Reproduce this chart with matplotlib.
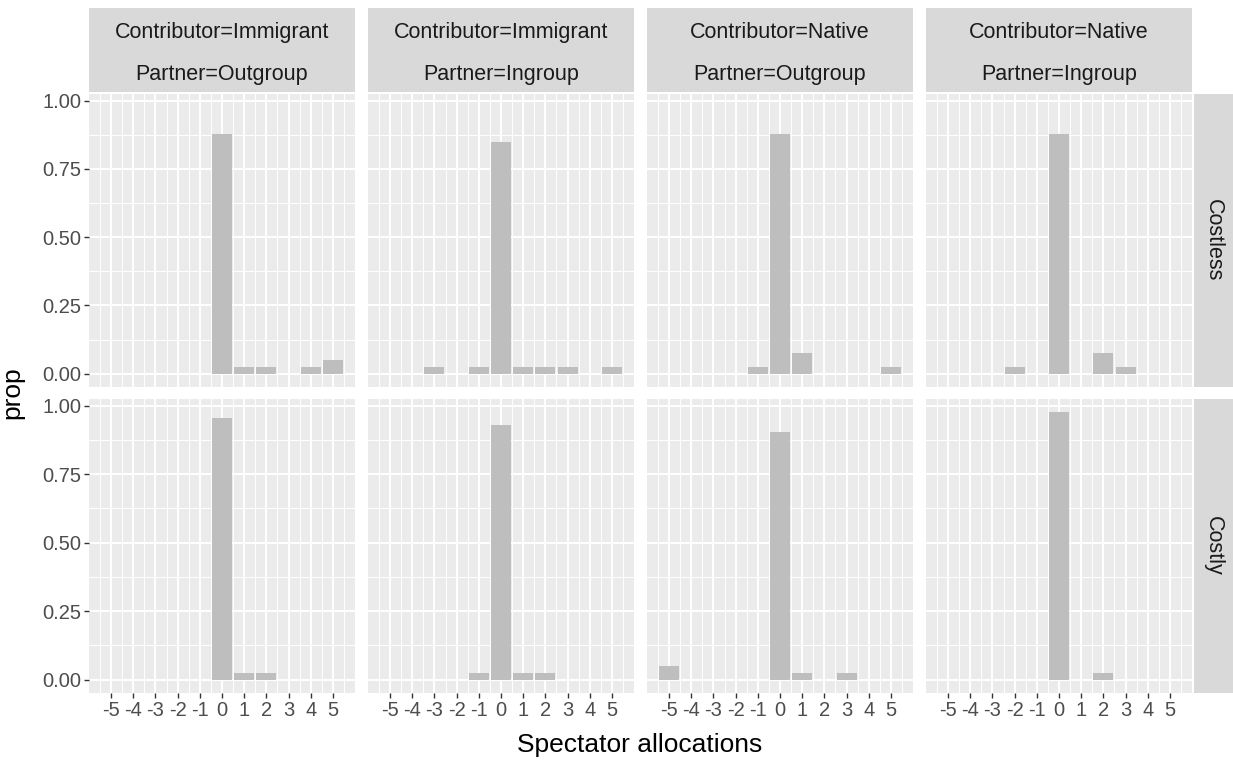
import numpy as np
import matplotlib
matplotlib.use("Agg")
import matplotlib.pyplot as plt

plt.rcParams['font.family'] = ['Liberation Sans', 'DejaVu Sans']

allocations = [-5, -4, -3, -2, -1, 0, 1, 2, 3, 4, 5]
contributors = ["Immigrant", "Immigrant", "Native", "Native"]
partners = ["Outgroup", "Ingroup", "Outgroup", "Ingroup"]
conditions = ["Costless", "Costly"]

# prop per allocation, one list per panel
costless_imm_out = [0, 0, 0, 0, 0, 0.879, 0.026, 0.026, 0, 0.026, 0.051]
costless_imm_in = [0, 0, 0.026, 0, 0.026, 0.850, 0.026, 0.026, 0.026, 0, 0.026]
costless_nat_out = [0, 0, 0, 0, 0.026, 0.879, 0.077, 0, 0, 0, 0.026]
costless_nat_in = [0, 0, 0, 0.026, 0, 0.879, 0, 0.077, 0.026, 0, 0]
costly_imm_out = [0, 0, 0, 0, 0, 0.954, 0.024, 0.024, 0, 0, 0]
costly_imm_in = [0, 0, 0, 0, 0.024, 0.929, 0.024, 0.024, 0, 0, 0]
costly_nat_out = [0.050, 0, 0, 0, 0, 0.904, 0.024, 0, 0.024, 0, 0]
costly_nat_in = [0, 0, 0, 0, 0, 0.976, 0, 0.024, 0, 0, 0]

rows = [
    [costless_imm_out, costless_imm_in, costless_nat_out, costless_nat_in],
    [costly_imm_out, costly_imm_in, costly_nat_out, costly_nat_in],
]

W, H = 1233, 762
fig = plt.figure(figsize=(W / 100, H / 100), dpi=100)

def px_axes(x0, y0, x1, y1):
    return fig.add_axes([x0 / W, 1 - y1 / H, (x1 - x0) / W, (y1 - y0) / H])

col_left = [89, 368, 647, 926]
pw = 266
row_top = [94, 399]
row_bot = [387, 693]

ymax = max(max(v) for r in rows for v in r)
ylo, yhi = -0.05 * ymax, ymax * 1.05
xlo, xhi = -5.45 - 0.545, 5.45 + 0.545

tick_col = "#4D4D4D"
for r in range(2):
    for c in range(4):
        ax = px_axes(col_left[c], row_top[r], col_left[c] + pw, row_bot[r])
        ax.set_facecolor("#EBEBEB")
        ax.set_xlim(xlo, xhi)
        ax.set_ylim(ylo, yhi)
        ax.set_xticks(allocations)
        ax.set_xticks(np.arange(-5.5, 6, 1), minor=True)
        ax.set_yticks([0, 0.25, 0.5, 0.75, 1.0])
        ax.set_yticks([0.125, 0.375, 0.625, 0.875], minor=True)
        ax.grid(which="major", color="white", linewidth=1.4)
        ax.grid(which="minor", color="white", linewidth=0.7)
        ax.set_axisbelow(True)
        for s in ax.spines.values():
            s.set_visible(False)
        ax.bar(allocations, rows[r][c], width=0.9, color="#BEBEBE", zorder=2)
        ax.tick_params(which="minor", length=0)
        ax.tick_params(which="major", length=3.5, width=1.0, color="#333333",
                       labelsize=14.5, labelcolor=tick_col, pad=2)
        if c == 0:
            ax.set_yticklabels(["0.00", "0.25", "0.50", "0.75", "1.00"])
        else:
            ax.tick_params(axis="y", which="major", length=0, labelleft=False)
        if r == 1:
            ax.set_xticklabels([str(a) for a in allocations])
        else:
            ax.tick_params(axis="x", which="major", length=0, labelbottom=False)

        if r == 0:
            sa = px_axes(col_left[c], 8, col_left[c] + pw, 92)
            sa.set_facecolor("#D9D9D9")
            sa.set_xticks([])
            sa.set_yticks([])
            for s in sa.spines.values():
                s.set_visible(False)
            sa.text(0.5, 0.71, "Contributor=" + contributors[c], ha="center", va="center",
                    fontsize=15.5, color="#1A1A1A", transform=sa.transAxes)
            sa.text(0.5, 0.21, "Partner=" + partners[c], ha="center", va="center",
                    fontsize=15.5, color="#1A1A1A", transform=sa.transAxes)

    ra = px_axes(1194, row_top[r], 1233, row_bot[r])
    ra.set_facecolor("#D9D9D9")
    ra.set_xticks([])
    ra.set_yticks([])
    for s in ra.spines.values():
        s.set_visible(False)
    ra.text(0.5, 0.5, conditions[r], ha="center", va="center", rotation=-90,
            fontsize=15.5, color="#1A1A1A", transform=ra.transAxes)

fig.text(640 / W, 1 - 745 / H, "Spectator allocations", ha="center", va="center", fontsize=19)
fig.text(12 / W, 1 - 393 / H, "prop", ha="center", va="center", rotation=90, fontsize=19)

fig.savefig("out.png", dpi=100, facecolor="white")
